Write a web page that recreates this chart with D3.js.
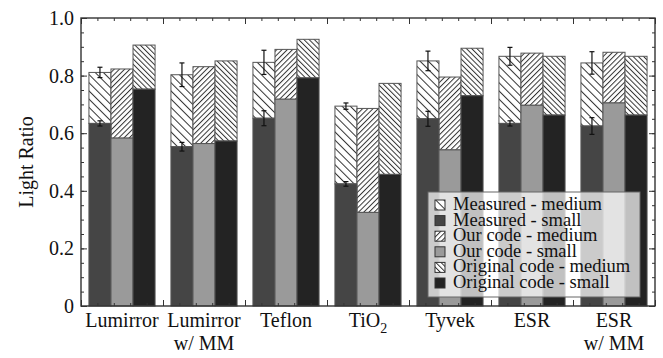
<!DOCTYPE html>
<meta charset="utf-8">
<head>
<script src="https://d3js.org/d3.v7.min.js"></script>
<style>
  body { margin: 0; background: #fff; }
  text { font-family: "Liberation Serif", "Times New Roman", serif; fill: #111; }
</style>
</head>
<body>
<div id="chart"></div>
<script>
// values
var categories = ["Lumirror", "Lumirror|w/ MM", "Teflon", "TiO2", "Tyvek", "ESR", "ESR|w/ MM"];
var series = ["Measured", "Our code", "Original code"];

var measuredTotal    = [0.811, 0.803, 0.846, 0.694, 0.851, 0.867, 0.844];
var measuredTotalErr = [0.018, 0.041, 0.042, 0.011, 0.034, 0.031, 0.039];
var measuredSmall    = [0.634, 0.553, 0.652, 0.424, 0.650, 0.634, 0.625];
var measuredSmallErr = [0.009, 0.015, 0.026, 0.008, 0.026, 0.009, 0.029];
var ourTotal  = [0.823, 0.831, 0.891, 0.686, 0.795, 0.878, 0.881];
var ourSmall  = [0.583, 0.564, 0.718, 0.325, 0.542, 0.697, 0.705];
var origTotal = [0.906, 0.851, 0.926, 0.773, 0.895, 0.867, 0.867];
var origSmall = [0.753, 0.573, 0.792, 0.457, 0.730, 0.663, 0.663];

var yTicks = [0, 0.2, 0.4, 0.6, 0.8, 1.0];
var legendLabels = ["Measured - medium", "Measured - small", "Our code - medium",
                    "Our code - small", "Original code - medium", "Original code - small"];

var margin = {top: 18, right: 8, bottom: 52, left: 81},
    width = 663 - margin.left - margin.right,
    height = 358 - margin.top - margin.bottom;

var svg = d3.select("#chart")
  .append("svg")
    .attr("width", 663)
    .attr("height", 358);

// hatch patterns
var defs = svg.append("defs");
function hatch(id, gap, angle) {
  var p = defs.append("pattern")
    .attr("id", id)
    .attr("patternUnits", "userSpaceOnUse")
    .attr("width", gap).attr("height", gap)
    .attr("patternTransform", "rotate(" + angle + ")");
  p.append("rect").attr("width", gap).attr("height", gap).attr("fill", "#fff");
  p.append("line").attr("x1", 0.5).attr("y1", 0).attr("x2", 0.5).attr("y2", gap)
    .attr("stroke", "#333").attr("stroke-width", 1);
}
hatch("h-meas", 5.8, -45);
hatch("h-our", 3.7, 45);
hatch("h-orig", 3.7, -45);

var mediumFill = ["url(#h-meas)", "url(#h-our)", "url(#h-orig)"];
var smallFill = ["#454545", "#9a9a9a", "#232323"];

var g = svg.append("g")
  .attr("transform", "translate(" + margin.left + "," + margin.top + ")");

var y = d3.scaleLinear().domain([0, 1]).range([height, 0]);
var x0 = d3.scaleBand().domain(categories).range([0, width]).padding(0);
var x1 = d3.scaleBand().domain(series).range([0, x0.bandwidth()])
  .paddingInner(0).paddingOuter(0.36);
var xl = d3.scaleLinear().domain([0, categories.length]).range([0, width]);

var data = categories.map(function(c, i) {
  return [
    {cat: c, s: 0, total: measuredTotal[i], small: measuredSmall[i]},
    {cat: c, s: 1, total: ourTotal[i], small: ourSmall[i]},
    {cat: c, s: 2, total: origTotal[i], small: origSmall[i]}
  ];
});

var groups = g.selectAll(".grp")
  .data(data)
  .enter().append("g")
    .attr("transform", function(d) { return "translate(" + x0(d[0].cat) + ",0)"; });

groups.selectAll(".med")
  .data(function(d) { return d; })
  .enter().append("rect")
    .attr("x", function(d) { return x1(series[d.s]); })
    .attr("y", function(d) { return y(d.total); })
    .attr("width", x1.bandwidth())
    .attr("height", function(d) { return y(d.small) - y(d.total); })
    .attr("fill", function(d) { return mediumFill[d.s]; })
    .attr("stroke", "#555").attr("stroke-width", 1);

groups.selectAll(".sml")
  .data(function(d) { return d; })
  .enter().append("rect")
    .attr("x", function(d) { return x1(series[d.s]); })
    .attr("y", function(d) { return y(d.small); })
    .attr("width", x1.bandwidth())
    .attr("height", function(d) { return y(0) - y(d.small); })
    .attr("fill", function(d) { return smallFill[d.s]; })
    .attr("stroke", "#555").attr("stroke-width", 1);

// error bars on measured
var errs = [];
categories.forEach(function(c, i) {
  errs.push({cat: c, v: measuredTotal[i], e: measuredTotalErr[i]});
  errs.push({cat: c, v: measuredSmall[i], e: measuredSmallErr[i]});
});
var eb = g.selectAll(".err")
  .data(errs)
  .enter().append("g")
    .attr("transform", function(d) {
      return "translate(" + (x0(d.cat) + x1("Measured") + x1.bandwidth() / 2) + ",0)";
    });
eb.append("line")
  .attr("x1", 0).attr("x2", 0)
  .attr("y1", function(d) { return y(d.v + d.e); })
  .attr("y2", function(d) { return y(d.v - d.e); })
  .attr("stroke", "#111").attr("stroke-width", 1.2);
eb.selectAll(".cap")
  .data(function(d) { return [d.v + d.e, d.v - d.e]; })
  .enter().append("line")
    .attr("x1", -2.5).attr("x2", 2.5)
    .attr("y1", function(d) { return y(d); })
    .attr("y2", function(d) { return y(d); })
    .attr("stroke", "#111").attr("stroke-width", 1.2);

// axes with inward ticks
function styleAxis(sel) {
  sel.select(".domain").remove();
  sel.selectAll("line").attr("stroke", "#333");
}
g.append("g")
  .call(d3.axisLeft(y).tickValues(yTicks).tickSize(-6).tickPadding(7)
    .tickFormat(function(d) { return d === 0 ? "0" : d3.format(".1f")(d); }))
  .call(styleAxis)
  .selectAll("text").style("font-size", "20px").attr("fill", "#111")
    .style("font-family", "Liberation Serif");
g.append("g")
  .call(d3.axisLeft(y).tickValues(d3.range(0, 1.001, 0.05)).tickSize(-3).tickFormat(""))
  .call(styleAxis);
g.append("g").attr("transform", "translate(" + width + ",0)")
  .call(d3.axisRight(y).tickValues(yTicks).tickSize(-6).tickFormat(""))
  .call(styleAxis);
g.append("g").attr("transform", "translate(" + width + ",0)")
  .call(d3.axisRight(y).tickValues(d3.range(0, 1.001, 0.05)).tickSize(-3).tickFormat(""))
  .call(styleAxis);
g.append("g").attr("transform", "translate(0," + height + ")")
  .call(d3.axisBottom(xl).tickValues(d3.range(0, 7.001, 1)).tickSize(-6).tickFormat(""))
  .call(styleAxis);
g.append("g").attr("transform", "translate(0," + height + ")")
  .call(d3.axisBottom(xl).tickValues(d3.range(0, 7.001, 0.2)).tickSize(-3).tickFormat(""))
  .call(styleAxis);
g.append("g")
  .call(d3.axisTop(xl).tickValues(d3.range(0, 7.001, 1)).tickSize(-6).tickFormat(""))
  .call(styleAxis);
g.append("g")
  .call(d3.axisTop(xl).tickValues(d3.range(0, 7.001, 0.2)).tickSize(-3).tickFormat(""))
  .call(styleAxis);

// frame
g.append("rect")
  .attr("width", width).attr("height", height)
  .attr("fill", "none").attr("stroke", "#333").attr("stroke-width", 1.4);

// category labels
var lab = g.selectAll(".cat")
  .data(categories)
  .enter().append("text")
    .attr("x", function(d) { return x0(d) + x0.bandwidth() / 2; })
    .attr("y", height + 21)
    .attr("text-anchor", "middle")
    .style("font-size", "20px");
lab.each(function(d) {
  var t = d3.select(this);
  var parts = d.split("|");
  if (parts[0] === "TiO2") {
    t.append("tspan").text("TiO");
    t.append("tspan").attr("dy", 6).style("font-size", "14px").text("2");
  } else {
    t.append("tspan").text(parts[0]);
  }
  if (parts[1]) {
    t.append("tspan").attr("x", x0(d) + x0.bandwidth() / 2).attr("dy", 23).text(parts[1]);
  }
});

// y label
svg.append("text")
  .attr("transform", "translate(33," + (margin.top + height / 2) + ") rotate(-90)")
  .attr("text-anchor", "middle")
  .style("font-size", "20px")
  .text("Light Ratio");

// legend
var legend = svg.append("g").attr("transform", "translate(428,192)");
legend.append("rect")
  .attr("width", 212).attr("height", 105)
  .attr("fill", "#fff").attr("fill-opacity", 0.72)
  .attr("stroke", "#666").attr("stroke-width", 1);
var legendFill = [mediumFill[0], smallFill[0], mediumFill[1], smallFill[1], mediumFill[2], smallFill[2]];
var rows = legend.selectAll(".row")
  .data(legendLabels)
  .enter().append("g")
    .attr("transform", function(d, i) { return "translate(7," + (8 + i * 15.6) + ")"; });
rows.append("rect")
  .attr("width", 10).attr("height", 10)
  .attr("fill", function(d, i) { return legendFill[i]; })
  .attr("stroke", "#333").attr("stroke-width", 1);
rows.append("text")
  .attr("x", 18).attr("y", 10)
  .style("font-size", "18.5px")
  .text(function(d) { return d; });
</script>
</body>
